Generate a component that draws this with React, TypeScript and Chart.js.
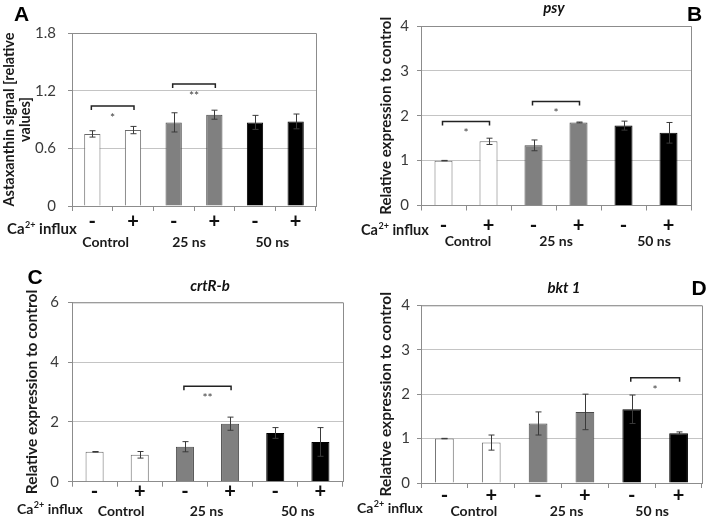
import React, { useEffect, useRef } from 'react';
import { Chart, registerables } from 'chart.js';

Chart.register(...registerables);

// ---------- data ----------
const CATEGORIES = ['-', '+', '-', '+', '-', '+'];
const GROUPS = ['Control', '25 ns', '50 ns'];

const A_VALUES = [0.75, 0.79, 0.87, 0.95, 0.87, 0.88];
const A_ERRORS = [0.033, 0.038, 0.1, 0.047, 0.073, 0.077];
const A_Y_TICKS = [0, 0.6, 1.2, 1.8];
const A_BRACKETS = [
  { from: 0, to: 1, y: 1.04, label: '*' },
  { from: 2, to: 3, y: 1.27, label: '**' },
];

const B_VALUES = [1.0, 1.43, 1.34, 1.85, 1.78, 1.62];
const B_ERRORS = [0.005, 0.07, 0.12, 0.01, 0.1, 0.23];
const B_Y_TICKS = [0, 1, 2, 3, 4];
const B_BRACKETS = [
  { from: 0, to: 1, y: 1.87, label: '*' },
  { from: 2, to: 3, y: 2.32, label: '*' },
];

const C_VALUES = [1.0, 0.9, 1.17, 1.94, 1.63, 1.33];
const C_ERRORS = [0.01, 0.11, 0.17, 0.22, 0.18, 0.48];
const C_Y_TICKS = [0, 2, 4, 6];
const C_BRACKETS = [{ from: 2, to: 3, y: 3.19, label: '**' }];

const D_VALUES = [1.0, 0.91, 1.34, 1.6, 1.66, 1.12];
const D_ERRORS = [0.005, 0.17, 0.26, 0.4, 0.32, 0.03];
const D_Y_TICKS = [0, 1, 2, 3, 4];
const D_BRACKETS = [{ from: 4, to: 5, y: 2.37, label: '*' }];

const A_Y_TITLE = ['Astaxanthin signal [relative', 'values]'];
const EXPR_Y_TITLE = 'Relative expression to control';

// ---------- styles ----------
const W = 708;
const H = 522;
const X_AXIS_H = 34;
const FONT = 'Lato, "Open Sans", "DejaVu Sans", sans-serif';
const LETTER_FONT = '"Liberation Sans", Arial, sans-serif';
const BAR_FILL = ['#ffffff', '#ffffff', '#808080', '#808080', '#000000', '#000000'];
const BAR_EDGE = ['#6a6a6a', '#6a6a6a', '#4a4a4a', '#4a4a4a', '#000000', '#000000'];
const GRID = '#c4c4c4';
const AXIS = '#8c8c8c';

type Bracket = { from: number; to: number; y: number; label: string };
type Panel = {
  values: number[];
  errors: number[];
  yTicks: number[];
  brackets: Bracket[];
  yTitle: string | string[];
  yTitleSize: number;
  yTitleLH: number;
  area: { left: number; top: number; right: number; bottom: number };
  yTitleX: number;
  yPad: number;
  xPad: number;
  groupY: number;
  groupDx: number[];
  caX: number;
  caY: number;
  caSize: number;
  letter: { text: string; x: number; y: number };
  title: { text: string; x: number; y: number } | null;
};

const PANELS: Panel[] = [
  {
    values: A_VALUES, errors: A_ERRORS, yTicks: A_Y_TICKS, brackets: A_BRACKETS, yTitle: A_Y_TITLE,
    yTitleSize: 14.5, yTitleLH: 1.1,
    area: { left: 72, top: 33, right: 316, bottom: 206 },
    yTitleX: 9, yPad: 12, xPad: 1, groupY: 242, groupDx: [-7, -5, -3], caX: 7, caY: 229, caSize: 15,
    letter: { text: 'A', x: 21.5, y: 15 }, title: null,
  },
  {
    values: B_VALUES, errors: B_ERRORS, yTicks: B_Y_TICKS, brackets: B_BRACKETS, yTitle: EXPR_Y_TITLE,
    yTitleSize: 15, yTitleLH: 1.2,
    area: { left: 421, top: 26, right: 691, bottom: 205.5 },
    yTitleX: 385.7, yPad: 8, xPad: 5, groupY: 241.5, groupDx: [2, 0, 8], caX: 361, caY: 230, caSize: 14.5,
    letter: { text: 'B', x: 694.5, y: 15 }, title: { text: 'psy', x: 554, y: 8 },
  },
  {
    values: C_VALUES, errors: C_ERRORS, yTicks: C_Y_TICKS, brackets: C_BRACKETS, yTitle: EXPR_Y_TITLE,
    yTitleSize: 15.5, yTitleLH: 1.2,
    area: { left: 72, top: 302.3, right: 343, bottom: 481.7 },
    yTitleX: 31.7, yPad: 9, xPad: -5, groupY: 511.5, groupDx: [4, -1, 0], caX: 17, caY: 509.3, caSize: 14,
    letter: { text: 'C', x: 35, y: 278 }, title: { text: 'crtR-b', x: 210, y: 286 },
  },
  {
    values: D_VALUES, errors: D_ERRORS, yTicks: D_Y_TICKS, brackets: D_BRACKETS, yTitle: EXPR_Y_TITLE,
    yTitleSize: 15.5, yTitleLH: 1.2,
    area: { left: 421, top: 305.3, right: 702, bottom: 483 },
    yTitleX: 385.7, yPad: 7, xPad: -2, groupY: 511, groupDx: [6, 5, -3], caX: 357, caY: 508.3, caSize: 14,
    letter: { text: 'D', x: 699, y: 289.5 }, title: { text: 'bkt 1', x: 564, y: 288.5 },
  },
];

function decorPlugin(p: Panel) {
  return {
    id: 'decor',
    beforeDatasetsDraw(chart: any) {
      const { ctx, chartArea } = chart;
      ctx.save();
      ctx.strokeStyle = AXIS;
      ctx.lineWidth = 1;
      ctx.beginPath();
      ctx.moveTo(chartArea.left, chartArea.top + 0.5);
      ctx.lineTo(chartArea.right + 0.5, chartArea.top + 0.5);
      ctx.lineTo(chartArea.right + 0.5, chartArea.bottom);
      ctx.stroke();
      ctx.restore();
    },
    afterDatasetsDraw(chart: any) {
      const { ctx } = chart;
      const y = chart.scales.y;
      const meta = chart.getDatasetMeta(0);
      ctx.save();
      // error bars
      ctx.strokeStyle = '#3a3a3a';
      ctx.lineWidth = 1;
      p.values.forEach((v, i) => {
        const x = Math.round(meta.data[i].x) + 0.5;
        const yt = y.getPixelForValue(v + p.errors[i]);
        const yb = y.getPixelForValue(v - p.errors[i]);
        ctx.beginPath();
        ctx.moveTo(x, yt);
        ctx.lineTo(x, yb);
        ctx.moveTo(x - 3, yt);
        ctx.lineTo(x + 3, yt);
        ctx.moveTo(x - 3, yb);
        ctx.lineTo(x + 3, yb);
        ctx.stroke();
      });
      // significance brackets
      p.brackets.forEach((b) => {
        const x1 = meta.data[b.from].x - 1;
        const x2 = meta.data[b.to].x + 1;
        const yy = y.getPixelForValue(b.y);
        ctx.strokeStyle = '#222';
        ctx.lineWidth = 1.5;
        ctx.beginPath();
        ctx.moveTo(x1, yy + 4);
        ctx.lineTo(x1, yy);
        ctx.lineTo(x2, yy);
        ctx.lineTo(x2, yy + 4);
        ctx.stroke();
        ctx.fillStyle = '#3c3c3c';
        ctx.font = `12px ${FONT}`;
        ctx.textAlign = 'center';
        ctx.textBaseline = 'middle';
        ctx.fillText(b.label, (x1 + x2) / 2, yy + 12);
      });
      ctx.restore();
    },
    afterDraw(chart: any) {
      const { ctx } = chart;
      const meta = chart.getDatasetMeta(0);
      ctx.save();
      ctx.fillStyle = '#1a1a1a';
      ctx.textBaseline = 'middle';
      // group labels
      ctx.font = `bold 14px ${FONT}`;
      ctx.textAlign = 'center';
      GROUPS.forEach((g, gi) => {
        const cx = (meta.data[gi * 2].x + meta.data[gi * 2 + 1].x) / 2 + p.groupDx[gi];
        ctx.fillText(g, cx, p.groupY);
      });
      // Ca2+ influx
      ctx.textAlign = 'left';
      const big = `bold ${p.caSize}px ${FONT}`;
      const small = `bold ${Math.round(p.caSize * 0.62)}px ${FONT}`;
      ctx.font = big;
      ctx.fillText('Ca', p.caX, p.caY);
      const w1 = ctx.measureText('Ca').width;
      ctx.font = small;
      ctx.fillText('2+', p.caX + w1 + 0.5, p.caY - 4);
      const w2 = ctx.measureText('2+').width;
      ctx.font = big;
      ctx.fillText(' influx', p.caX + w1 + w2 + 0.5, p.caY);
      // panel letter
      ctx.fillStyle = '#000';
      ctx.textAlign = 'center';
      ctx.font = `bold 21px ${LETTER_FONT}`;
      ctx.fillText(p.letter.text, p.letter.x, p.letter.y);
      // gene title
      if (p.title) {
        ctx.font = `italic bold 15px ${FONT}`;
        ctx.fillStyle = '#111';
        ctx.fillText(p.title.text, p.title.x, p.title.y);
      }
      ctx.restore();
    },
  };
}

function PanelChart({ p }: { p: Panel }) {
  const ref = useRef<HTMLCanvasElement | null>(null);
  useEffect(() => {
    if (!ref.current) return;
    const padLeft = p.yTitleX - (p.yTitleSize * p.yTitleLH) / 2;
    const chart = new Chart(ref.current, {
      type: 'bar',
      data: {
        labels: CATEGORIES,
        datasets: [
          {
            data: p.values,
            backgroundColor: BAR_FILL,
            borderColor: BAR_EDGE,
            borderWidth: 1,
            barPercentage: 0.4,
            categoryPercentage: 1,
          },
        ],
      },
      options: {
        animation: false,
        responsive: false,
        events: [],
        layout: {
          padding: {
            left: padLeft,
            top: p.area.top,
            right: W - p.area.right,
            bottom: H - p.area.bottom - X_AXIS_H,
          },
        },
        plugins: { legend: { display: false }, tooltip: { enabled: false }, title: { display: false } },
        scales: {
          x: {
            grid: { drawOnChartArea: false, drawTicks: true, tickLength: 5, color: AXIS, offset: true },
            border: { color: AXIS },
            ticks: {
              font: { family: FONT, size: 20, weight: 'bold', lineHeight: 1 },
              color: '#111',
              padding: p.xPad,
              maxRotation: 0,
              autoSkip: false,
            },
            afterFit: (s: any) => {
              s.height = X_AXIS_H;
            },
          },
          y: {
            min: 0,
            max: p.yTicks[p.yTicks.length - 1],
            afterBuildTicks: (s: any) => {
              s.ticks = p.yTicks.map((v) => ({ value: v }));
            },
            grid: { color: GRID, tickLength: 4, drawTicks: true, tickColor: AXIS },
            border: { color: AXIS },
            ticks: {
              font: { family: FONT, size: 15 },
              color: '#3a3a3a',
              padding: p.yPad,
              callback: (v: any) => String(Math.round(Number(v) * 10) / 10),
            },
            title: {
              display: true,
              text: p.yTitle,
              font: { family: FONT, size: p.yTitleSize, weight: 'bold', lineHeight: p.yTitleLH },
              color: '#1a1a1a',
              padding: { top: 0, bottom: 0 },
            },
            afterFit: (s: any) => {
              s.width = p.area.left - padLeft;
            },
          },
        },
      } as any,
      plugins: [decorPlugin(p)],
    });
    return () => chart.destroy();
  }, [p]);
  return (
    <canvas
      ref={ref}
      width={W}
      height={H}
      style={{ position: 'absolute', left: 0, top: 0, width: W, height: H }}
    />
  );
}

export default function App() {
  return (
    <div style={{ position: 'fixed', left: 0, top: 0, width: W, height: H, background: '#fff', overflow: 'hidden' }}>
      {PANELS.map((p, i) => (
        <PanelChart key={i} p={p} />
      ))}
    </div>
  );
}
